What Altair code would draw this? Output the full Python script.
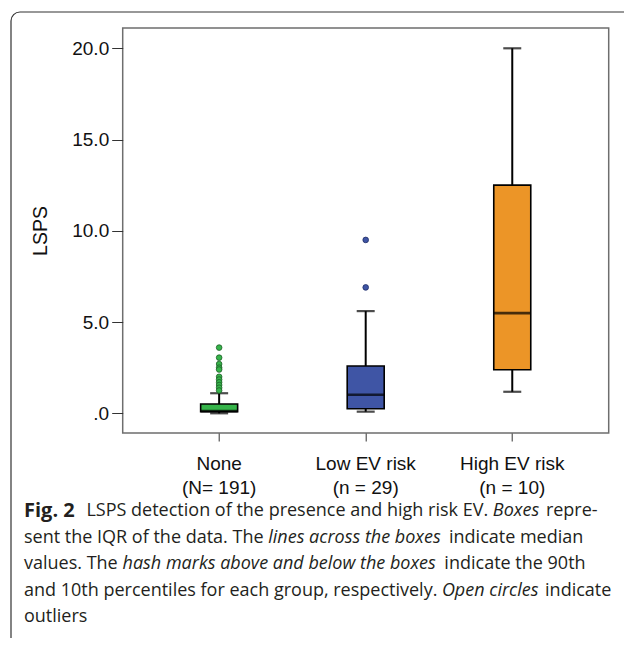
import altair as alt
import pandas as pd

# ---- data ----
groups = ["None", "Low EV risk", "High EV risk"]
group_n = ["(N= 191)", "(n = 29)", "(n = 10)"]
lower = [0.0, 0.09, 1.18]     # 10th percentile hash mark
q1 = [0.09, 0.25, 2.39]
median = [0.12, 1.02, 5.49]
q3 = [0.51, 2.59, 12.5]
upper = [1.1, 5.6, 20.0]      # 90th percentile hash mark
outliers_none = [3.6, 3.05, 2.7, 2.5, 2.4, 2.0, 1.85, 1.7, 1.55, 1.4, 1.25]
outliers_low = [9.5, 6.9]
outliers_high = []
fills = ["#36b44a", "#3f55a5", "#ec9527"]
edges = ["#1d5e27", "#1f2d66", "#7a4a10"]
y_ticks = [0, 5, 10, 15, 20]

caption_lines = [
    [("Fig. 2", "bold"), ("LSPS detection of the presence and high risk EV.", "normal"),
     ("Boxes", "italic"), ("repre-", "normal")],
    [("sent the IQR of the data. The", "normal"), ("lines across the boxes", "italic"),
     ("indicate median", "normal")],
    [("values. The", "normal"), ("hash marks above and below the boxes", "italic"),
     ("indicate the 90th", "normal")],
    [("and 10th percentiles for each group, respectively.", "normal"),
     ("Open circles", "italic"), ("indicate", "normal")],
    [("outliers", "normal")],
]

keys = [f"{g}|{n}" for g, n in zip(groups, group_n)]
stats = pd.DataFrame({"group": keys, "lower": lower, "q1": q1, "median": median,
                      "q3": q3, "upper": upper})
out_rows = []
for k, vals in zip(keys, [outliers_none, outliers_low, outliers_high]):
    for v in vals:
        out_rows.append({"group": k, "value": v})
outs = pd.DataFrame(out_rows)

W, H = 486, 405
FONT = "Liberation Sans"

xscale = alt.Scale(type="band", domain=keys, paddingInner=0, paddingOuter=0.158)
x_enc = alt.X("group:N", scale=xscale, sort=keys,
              axis=alt.Axis(title=None, labelExpr="split(datum.label, '|')",
                            labelAngle=0, labelFontSize=19, labelLineHeight=24,
                            labelFont=FONT, labelColor="#111", tickSize=8,
                            tickColor="#333", tickWidth=1, labelPadding=13,
                            domain=False, grid=False))
yscale = alt.Scale(domain=[-1.079, 21.112], nice=False, zero=False)
y_axis = alt.Axis(values=y_ticks, title="LSPS",
                  labelExpr="datum.value == 0 ? '.0' : format(datum.value, '.1f')",
                  labelFontSize=19, labelFont=FONT, labelColor="#111",
                  tickSize=11, tickColor="#333", tickWidth=1, labelPadding=3,
                  domain=False, grid=False, titleFont=FONT, titleFontSize=19.5,
                  titleFontWeight="normal", titleColor="#111", titleX=-82.7,
                  titleBaseline="middle")
color_scale = alt.Scale(domain=keys, range=fills)
edge_scale = alt.Scale(domain=keys, range=edges)

base = alt.Chart(stats)
whisker = base.mark_rule(color="black", strokeWidth=2).encode(
    x=x_enc, y=alt.Y("lower:Q", scale=yscale, axis=y_axis), y2="upper:Q")
box = base.mark_bar(size=37, stroke="black", strokeWidth=1.6).encode(
    x=x_enc, y=alt.Y("q1:Q", scale=yscale), y2="q3:Q",
    color=alt.Color("group:N", scale=color_scale, legend=None))
med = base.mark_tick(size=37, thickness=2.6, color="black").encode(
    x=x_enc, y=alt.Y("median:Q", scale=yscale))
cap_lo = base.mark_tick(size=18, thickness=2.2, color="black").encode(
    x=x_enc, y=alt.Y("lower:Q", scale=yscale))
cap_hi = base.mark_tick(size=18, thickness=2.2, color="black").encode(
    x=x_enc, y=alt.Y("upper:Q", scale=yscale))
pts = alt.Chart(outs).mark_point(filled=True, size=32, strokeWidth=0.8, opacity=1).encode(
    x=x_enc, y=alt.Y("value:Q", scale=yscale),
    fill=alt.Fill("group:N", scale=color_scale, legend=None),
    stroke=alt.Stroke("group:N", scale=edge_scale, legend=None))

# ---- outer frame and caption (page decoration) ----
one = alt.Data(values=[{}])
OX, OY = 122.7, 28.0   # plot origin on the page
border = alt.Chart(one).mark_rect(fill=None, stroke="#333", strokeWidth=1.2,
                                  cornerRadius=9).encode(
    x=alt.value(11 - OX), x2=alt.value(660 - OX),
    y=alt.value(12 - OY), y2=alt.value(648 - OY))

# approximate Open Sans advance widths (units per 2048 em) for laying out rich text
_adv = {" ": 532, ",": 500, "-": 659, ".": 545, "(": 586, ")": 586, "=": 1171,
        "A": 1296, "B": 1327, "C": 1292, "D": 1493, "E": 1139, "F": 1057, "G": 1491,
        "H": 1511, "I": 571, "L": 1063, "O": 1595, "P": 1233, "Q": 1595, "R": 1266,
        "S": 1124, "T": 1133, "V": 1219,
        "a": 1139, "b": 1255, "c": 975, "d": 1255, "e": 1149, "f": 694, "g": 1122,
        "h": 1257, "i": 518, "j": 518, "k": 1075, "l": 518, "m": 1905, "n": 1257,
        "o": 1237, "p": 1255, "q": 1255, "r": 836, "s": 977, "t": 723, "u": 1257,
        "v": 1026, "w": 1593, "x": 1073, "y": 1028, "z": 977}


def text_w(s, size, style):
    w = sum(_adv.get(ch, 1171) for ch in s) / 2048 * size
    if style == "italic":
        w *= 0.955
    if style == "bold":
        w *= 1.08
    return w


CFONT = "Open Sans"
CSIZE = 18
BSIZE = 20
X0 = 24
line_y = [511, 537.5, 564, 590.5, 617]
space = _adv[" "] / 2048 * CSIZE
cap_layers = []
for segs, py in zip(caption_lines, line_y):
    cx = X0
    for txt, style in segs:
        size = BSIZE if style == "bold" else CSIZE
        kw = dict(font=CFONT, fontSize=size, align="left", baseline="middle",
                  color="#231f20")
        if style == "bold":
            kw["fontWeight"] = "bold"
        if style == "italic":
            kw["fontStyle"] = "italic"
        cap_layers.append(alt.Chart(one).mark_text(**kw).encode(
            x=alt.value(cx - OX), y=alt.value(py - OY), text=alt.value(txt)))
        cx += text_w(txt, size, style) + (2.2 * space if style == "bold" else space)

chart = alt.layer(whisker, box, med, cap_lo, cap_hi, pts, border, *cap_layers).properties(
    width=W, height=H,
    autosize=alt.AutoSizeParams(type="none"),
    padding={"left": OX - 8, "top": OY - 8, "right": 616 - (OX - 8) - W,
             "bottom": 630 - (OY - 8) - H},
    background="white",
).configure_view(stroke="#6e6e6e", strokeWidth=1.5)

chart.save("out.html", embed_options={"renderer": "svg", "actions": False})
